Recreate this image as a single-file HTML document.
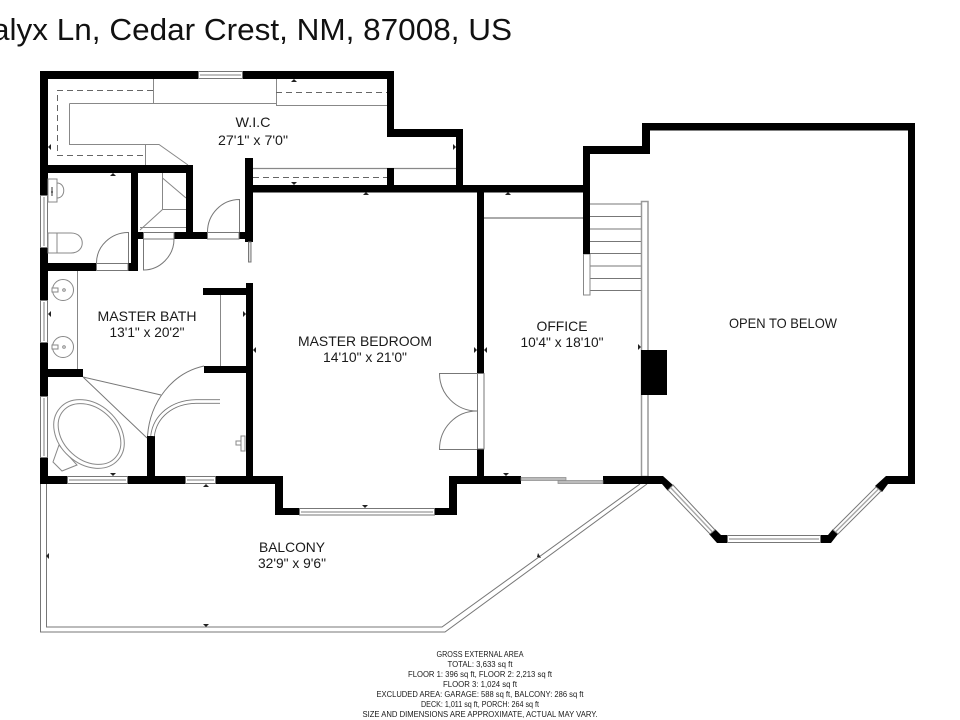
<!DOCTYPE html>
<html><head><meta charset="utf-8"><style>
html,body{margin:0;padding:0;background:#fff;width:960px;height:720px;overflow:hidden}
svg{display:block}
text{font-family:"Liberation Sans",sans-serif;fill:#1a1a1a;text-anchor:middle}
.l{font-size:14px}
.f{font-size:8px}
</style></head><body>
<svg width="960" height="720" viewBox="0 0 960 720" xmlns="http://www.w3.org/2000/svg">
<rect width="960" height="720" fill="#fff"/>
<text x="512" y="40" font-size="31" style="text-anchor:end;fill:#111" textLength="520" lengthAdjust="spacingAndGlyphs">alyx Ln, Cedar Crest, NM, 87008, US</text>

<!-- balcony rail -->
<g fill="none" stroke="#777" stroke-width="1">
<path d="M40.5 484V632H445L647 484"/>
<path d="M46.5 484V627H442L640 484"/>
</g>

<!-- thin interior -->
<g fill="none" stroke="#888" stroke-width="1">
<path d="M153.500 78V103.500M69.500 103.500H276.500M276.500 78V105.500H387M69.500 103.500V144.500H159L188 165M145.500 144.500V165"/>
<path d="M253 168.500H456" stroke-width="1.200"/>
<path d="M162.500 173V209.500H186M162.500 178L186 198M162.500 209.500L140 230M140 227.500H186"/>
<path d="M77.500 271V369M220.500 295V366"/>
</g>
<g fill="none" stroke="#666" stroke-width="1" stroke-dasharray="6 4">
<path d="M153 90.500H57.500V155.500H145"/>
<path d="M276 92.500H387"/>
<path d="M253 177.500H387"/>
</g>
<path d="M484 218H583" stroke="#aaa" stroke-width="2"/>

<!-- stairs -->
<g stroke="#777" stroke-width="1">
<path d="M590 204H641M590 216.500H641M590 229H641M590 241.500H641M590 253.500H641M590 266H641M590 278.500H641M590 290.500H641"/>
</g>
<rect x="641.500" y="201.500" width="6.500" height="275" fill="#fff" stroke="#999" stroke-width="1.500"/>
<rect x="583.500" y="254" width="6.500" height="41" fill="#fff" stroke="#888"/>

<!-- walls -->
<g fill="#000">
<rect x="40" y="71" width="158" height="8"/>
<rect x="243" y="71" width="151" height="8"/>
<rect x="387" y="71" width="7" height="66"/>
<rect x="387" y="129" width="76" height="8"/>
<rect x="456" y="129" width="7" height="60"/>
<rect x="387" y="168" width="7" height="20"/>
<rect x="245" y="185" width="345" height="7.500"/>
<rect x="245" y="158" width="8" height="84"/>
<rect x="40" y="71" width="8" height="124"/>
<rect x="40" y="248" width="8" height="52"/>
<rect x="40" y="343" width="8" height="53"/>
<rect x="40" y="458" width="8" height="26"/>
<rect x="48" y="165" width="145" height="8"/>
<rect x="186" y="165" width="7" height="74"/>
<rect x="131" y="165" width="7" height="106"/>
<rect x="174" y="232" width="33" height="7"/>
<rect x="138" y="232" width="5" height="7"/>
<rect x="239" y="232" width="8" height="7"/>
<rect x="48" y="263" width="48" height="8"/>
<rect x="128" y="263" width="10" height="8"/>
<rect x="48" y="369" width="35" height="8"/>
<rect x="246" y="283" width="7" height="194"/>
<rect x="203" y="288" width="43" height="7"/>
<rect x="204" y="366" width="42" height="7"/>
<rect x="147" y="436" width="8" height="41"/>
<rect x="40" y="476" width="27" height="8"/>
<rect x="128" y="476" width="57" height="8"/>
<rect x="216" y="476" width="67" height="8"/>
<rect x="275" y="476" width="8" height="39"/>
<rect x="275" y="508" width="24" height="7"/>
<rect x="435" y="508" width="22" height="7"/>
<rect x="449" y="476" width="8" height="39"/>
<rect x="449" y="476" width="72" height="8"/>
<rect x="477" y="192" width="7" height="181"/>
<rect x="477" y="449" width="7" height="30"/>
<rect x="583" y="146" width="7" height="108"/>
<rect x="583" y="146" width="67" height="8"/>
<rect x="642" y="123" width="8" height="31"/>
<rect x="642" y="123" width="273" height="7.500"/>
<rect x="908" y="123" width="7" height="361"/>
<rect x="603" y="476" width="60" height="8"/>
<rect x="641" y="350" width="26" height="45"/>
<polygon points="663,476 674,486 668,491 662,484"/>
<polygon points="727,535 727,543 717,543 709,534 715,529 721,535"/>
<polygon points="821,535 821,543 831,543 838,534 833,529 828,535"/>
<polygon points="875,486 886,476 915,476 915,484 888,484 882,492"/>
</g>

<!-- windows -->
<g fill="#fff" stroke="#777" stroke-width="1">
<rect x="198.500" y="71.500" width="44" height="7"/>
<rect x="40.500" y="195.500" width="7" height="52"/>
<rect x="40.500" y="300.500" width="7" height="42"/>
<rect x="40.500" y="396.500" width="7" height="61"/>
<rect x="67.500" y="476.500" width="60" height="7"/>
<rect x="185.500" y="476.500" width="30" height="7"/>
<rect x="299.500" y="508.500" width="135" height="6.500"/>
<rect x="727.500" y="535.500" width="93" height="7"/>
<polygon points="673,485 668,490 710,534 715,530"/>
<polygon points="876,487 881,491 838,534 833,530"/>
</g>
<g stroke="#aaa" stroke-width="1.500">
<path d="M200 75H241M44 197V246M44 302V341M44 398V456M69 480H126M187 480H214M301 512H433M729 539H819M670.500 487.500L712.500 532M878.500 489L835.500 532"/>
</g>

<!-- sliding door -->
<rect x="521" y="477.500" width="45" height="3" fill="#bbb" stroke="#888" stroke-width=".7"/>
<rect x="558" y="480.500" width="45" height="3" fill="#bbb" stroke="#888" stroke-width=".7"/>

<!-- doors -->
<g fill="#fff" stroke="#777" stroke-width="1">
<rect x="143.500" y="232.500" width="30.500" height="6.500"/>
<rect x="207.500" y="232.500" width="31.500" height="6.500"/>
<rect x="96.500" y="263.500" width="31.500" height="7"/>
<rect x="477.500" y="373.500" width="6.500" height="75.500"/>
<rect x="248.500" y="242" width="2.500" height="20" fill="#ddd"/>
</g>
<g fill="none" stroke="#777" stroke-width="1">
<path d="M143.500 239V270C160 270 174 256 174 239"/>
<path d="M239.500 232V199.500C222 199.500 207.500 214 207.500 232"/>
<path d="M128.500 263V232.500C111 232.500 96.500 246 96.500 263"/>
<path d="M477 373.500H439.500C439.500 394 456 411 477 411C456 411 439.500 428 439.500 449.500H477"/>
<path d="M83 377L147 438M83 377L161 395"/>
<path d="M204 366C172 373 150 402 147.500 436"/>
</g>
<path d="M220 401.500H196C172 402 155 416 152.500 436" fill="none" stroke="#777" stroke-width="4.500"/>
<path d="M220 401.500H196C172 402 155 416 152.500 436" fill="none" stroke="#fff" stroke-width="2.800"/>

<!-- fixtures -->
<g fill="#fff" stroke="#888" stroke-width="1">
<circle cx="63" cy="290" r="10.500"/>
<circle cx="63" cy="347" r="10.500"/>
<rect x="52" y="288" width="6" height="4"/>
<rect x="52" y="345" width="6" height="4"/>
<circle cx="64" cy="290" r="1.300"/>
<circle cx="64" cy="347" r="1.300"/>
<rect x="48" y="179" width="9" height="23"/>
<path d="M57 183C66 183 66 198 57 198Z"/>
<path d="M48 233H57V253H48Z"/>
<path d="M57 233H71C86 233 86 253 71 253H57Z"/>
<polygon points="53,462 62,471 77,465 59,445"/>
<ellipse cx="89" cy="434" rx="39" ry="30" transform="rotate(42 89 434)"/>
<ellipse cx="89.500" cy="434" rx="35" ry="26" transform="rotate(42 89.500 434)"/>
<path d="M236 441H241V445H236ZM241 436H245V451H241Z"/>
</g>
<path d="M51 192H53M52 187V196" stroke="#333" stroke-width="1"/>

<!-- ticks -->
<g fill="#222">
<polygon points="48,147 51,144 51,150"/>
<polygon points="113,173 116,176 110,176"/>
<polygon points="294,79 297,82 291,82"/>
<polygon points="294,185 297,182 291,182"/>
<polygon points="366,192 369,195 363,195"/>
<polygon points="456,147 453,144 453,150"/>
<polygon points="48,314 51,311 51,317"/>
<polygon points="246,314 243,311 243,317"/>
<polygon points="253,350 256,347 256,353"/>
<polygon points="206,484 209,487 203,487"/>
<polygon points="113,476 116,473 110,473"/>
<polygon points="365,508 368,505 362,505"/>
<polygon points="506,476 509,473 503,473"/>
<polygon points="477,350 474,347 474,353"/>
<polygon points="484,350 487,347 487,353"/>
<polygon points="641,347 638,344 638,350"/>
<polygon points="508,192 511,195 505,195"/>
<polygon points="46,556 49,553 49,559"/>
<polygon points="206,627 209,624 203,624"/>
<polygon points="537,557 541,558 538,553"/>
</g>

<!-- labels -->
<text class="l" x="253" y="127" textLength="35" lengthAdjust="spacingAndGlyphs">W.I.C</text>
<text class="l" x="253" y="145" textLength="70" lengthAdjust="spacingAndGlyphs">27'1" x 7'0"</text>
<text class="l" x="147" y="321" textLength="99" lengthAdjust="spacingAndGlyphs">MASTER BATH</text>
<text class="l" x="147" y="337" textLength="75" lengthAdjust="spacingAndGlyphs">13'1" x 20'2"</text>
<text class="l" x="365" y="346" textLength="134" lengthAdjust="spacingAndGlyphs">MASTER BEDROOM</text>
<text class="l" x="365" y="362" textLength="84" lengthAdjust="spacingAndGlyphs">14'10" x 21'0"</text>
<text class="l" x="562" y="331" textLength="51" lengthAdjust="spacingAndGlyphs">OFFICE</text>
<text class="l" x="562" y="347" textLength="83" lengthAdjust="spacingAndGlyphs">10'4" x 18'10"</text>
<text class="l" x="783" y="328" textLength="108" lengthAdjust="spacingAndGlyphs">OPEN TO BELOW</text>
<text class="l" x="292" y="552" textLength="66" lengthAdjust="spacingAndGlyphs">BALCONY</text>
<text class="l" x="292" y="568" textLength="68" lengthAdjust="spacingAndGlyphs">32'9" x 9'6"</text>

<!-- footer -->
<text class="f" x="480" y="657" textLength="87" lengthAdjust="spacingAndGlyphs">GROSS EXTERNAL AREA</text>
<text class="f" x="480" y="667" textLength="65" lengthAdjust="spacingAndGlyphs">TOTAL: 3,633 sq ft</text>
<text class="f" x="480" y="677" textLength="144" lengthAdjust="spacingAndGlyphs">FLOOR 1: 396 sq ft, FLOOR 2: 2,213 sq ft</text>
<text class="f" x="480" y="687" textLength="74" lengthAdjust="spacingAndGlyphs">FLOOR 3: 1,024 sq ft</text>
<text class="f" x="480" y="697" textLength="207" lengthAdjust="spacingAndGlyphs">EXCLUDED AREA: GARAGE: 588 sq ft, BALCONY: 286 sq ft</text>
<text class="f" x="480" y="707" textLength="118" lengthAdjust="spacingAndGlyphs">DECK: 1,011 sq ft, PORCH: 264 sq ft</text>
<text class="f" x="480" y="717" textLength="235" lengthAdjust="spacingAndGlyphs">SIZE AND DIMENSIONS ARE APPROXIMATE, ACTUAL MAY VARY.</text>
</svg>
</body></html>
